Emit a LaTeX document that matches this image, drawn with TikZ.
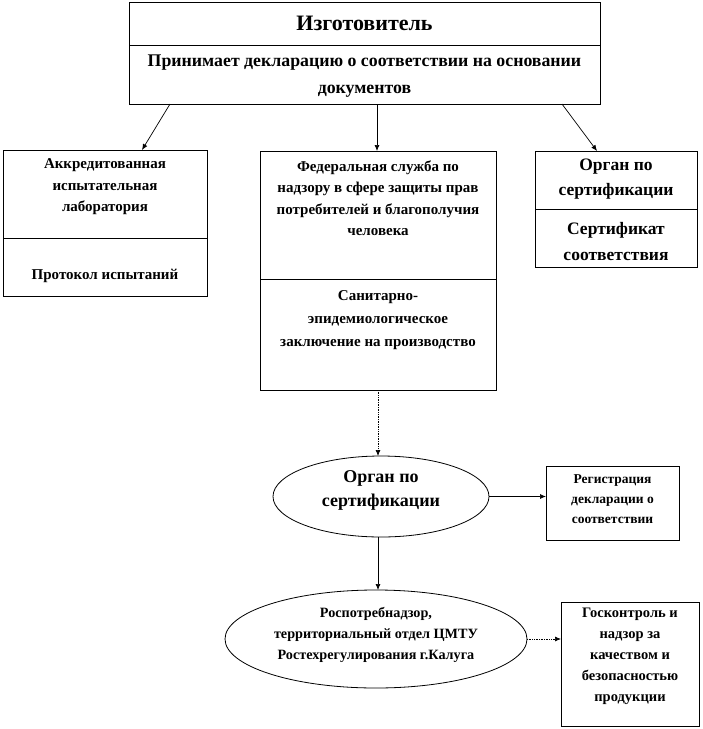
\documentclass[tikz,border=0pt]{standalone}
\usepackage{fontspec}
\setmainfont{Liberation Serif}
\usetikzlibrary{shapes.geometric,arrows.meta}
\begin{document}
\begin{tikzpicture}[x=1pt,y=-1pt,
  box/.style={draw=black, line width=0.8pt, inner sep=0pt, outer sep=0pt},
  ell/.style={draw=black, line width=0.8pt, ellipse, inner sep=0pt, outer sep=0pt},
  divider/.style={draw=black, line width=0.8pt},
  txt/.style={inner sep=0pt, align=center, font=\bfseries},
  conn/.style={draw=black, line width=0.7pt, -{Latex[length=6pt,width=5pt]}},
  dconn/.style={conn, densely dotted}]
\useasboundingbox (0,0) rectangle (703,729);

% top box
\node[box, minimum width=471pt, minimum height=102pt] (top) at (364.5,53) {};
\draw[divider] (top.west |- 0,45) -- (top.east |- 0,45);
\node[txt, font=\fontsize{22}{26}\selectfont\bfseries] (t1) at (364.5,23) {Изготовитель};
\node[txt, font=\fontsize{17.8}{27}\selectfont\bfseries] (t2) at (364.5,76.5) {Принимает декларацию о соответствии на основании\\документов};

% left box
\node[box, minimum width=204pt, minimum height=146pt] (lab) at (105,223) {};
\draw[divider] (lab.west |- 0,238) -- (lab.east |- 0,238);
\node[txt, font=\fontsize{15}{21.5}\selectfont\bfseries] (l1) at (105,187) {Аккредитованная\\испытательная\\лаборатория};
\node[txt, font=\fontsize{15}{18}\selectfont\bfseries] (l2) at (105,276) {Протокол испытаний};

% middle box
\node[box, minimum width=236pt, minimum height=239pt] (fed) at (378,270.5) {};
\draw[divider] (fed.west |- 0,279) -- (fed.east |- 0,279);
\node[txt, font=\fontsize{15}{21.5}\selectfont\bfseries] (m1) at (378,198) {Федеральная служба по\\надзору в сфере защиты прав\\потребителей и благополучия\\человека};
\node[txt, font=\fontsize{15}{23}\selectfont\bfseries] (m2) at (378,320.5) {Санитарно-\\эпидемиологическое\\заключение на производство};

% right box
\node[box, minimum width=162pt, minimum height=116pt] (org) at (616,209) {};
\draw[divider] (org.west |- 0,209) -- (org.east |- 0,209);
\node[txt, font=\fontsize{17.5}{25}\selectfont\bfseries] (r1) at (616,179.5) {Орган по\\сертификации};
\node[txt, font=\fontsize{17.5}{26}\selectfont\bfseries] (r2) at (616,241.5) {Сертификат\\соответствия};

% ellipse 1
\node[ell, minimum width=216pt, minimum height=81pt] (e1) at (381,496.5) {};
\node[txt, font=\fontsize{18}{24}\selectfont\bfseries] (e1t) at (381,490.5) {Орган по\\сертификации};

% registration box
\node[box, minimum width=133pt, minimum height=74pt] (reg) at (612.5,503) {};
\node[txt, font=\fontsize{13.5}{20}\selectfont\bfseries] (regt) at (612.5,499) {Регистрация\\декларации о\\соответствии};

% ellipse 2
\node[ell, minimum width=302pt, minimum height=98pt] (e2) at (376,639) {};
\node[txt, font=\fontsize{14.2}{21}\selectfont\bfseries] (e2t) at (376,635) {Роспотребнадзор,\\территориальный отдел ЦМТУ\\Ростехрегулирования г.Калуга};

% goskontrol box
\node[box, minimum width=138pt, minimum height=124pt] (gk) at (630,664) {};
\node[txt, font=\fontsize{14.5}{21}\selectfont\bfseries] (gkt) at (630,656) {Госконтроль и\\надзор за\\качеством и\\безопасностью\\продукции};

% connectors
\draw[conn] ([xshift=-194.5pt]top.south) -- ([xshift=37pt]lab.north);
\draw[conn] ([xshift=12.5pt]top.south) -- (fed.north -| 377,0);
\draw[conn] ([xshift=197.5pt]top.south) -- ([xshift=-19pt]org.north);
\draw[dconn] (fed.south -| 378,0) -- (e1.north -| 378,0);
\draw[conn] (e1.east) -- (reg.west |- e1.east);
\draw[conn] (e1.south -| 378,0) -- (e2.north -| 378,0);
\draw[dconn] (e2.east) -- (gk.west |- e2.east);
\end{tikzpicture}
\end{document}
